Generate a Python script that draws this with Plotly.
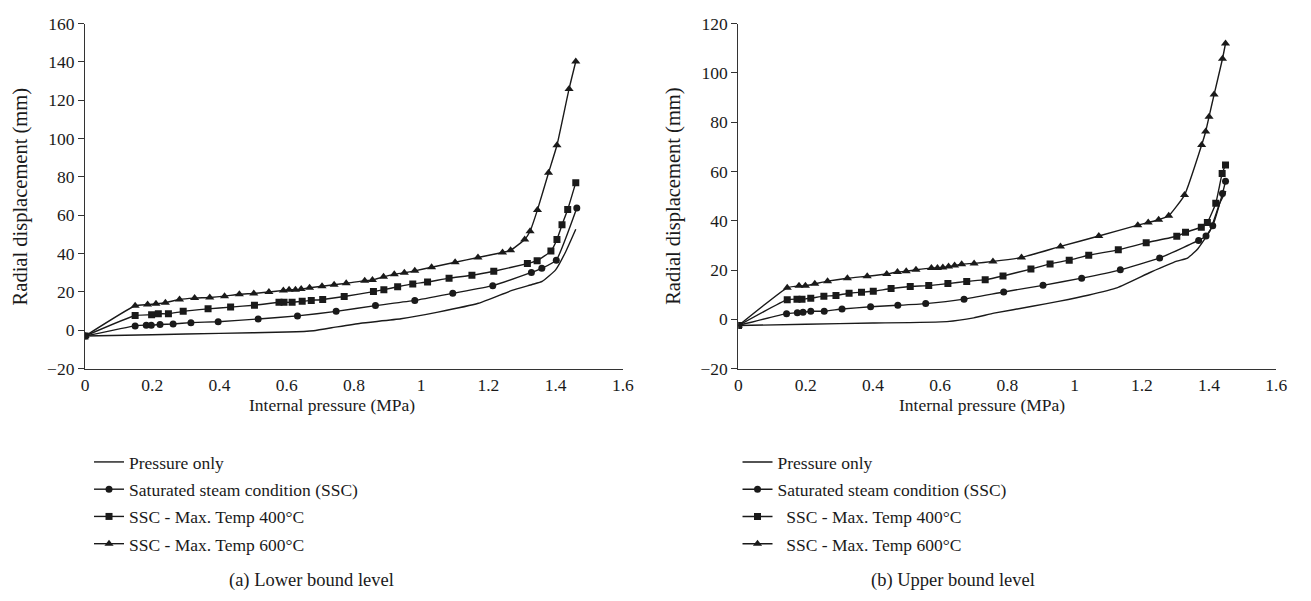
import plotly.graph_objects as go

# ---------------- (a) Lower bound level ----------------
a_press_x = [0, 0.2, 0.4, 0.6, 0.68, 0.75, 0.82, 0.94, 1.05, 1.17, 1.27, 1.33, 1.36, 1.40, 1.43, 1.46]
a_press_y = [-3, -2.3, -1.6, -0.9, -0.2, 1.8, 3.7, 6.0, 9.5, 14.1, 20.8, 23.9, 25.5, 31.5, 41, 52.7]

a_ssc_x = [0, 0.149, 0.182, 0.197, 0.223, 0.262, 0.315, 0.396, 0.515, 0.632, 0.747, 0.864, 0.981,
           1.094, 1.213, 1.328, 1.359, 1.402, 1.463]
a_ssc_y = [-3, 2.3, 2.7, 2.7, 3.0, 3.3, 4.0, 4.5, 5.9, 7.5, 9.9, 12.9, 15.6,
           19.3, 23.3, 30.2, 32.3, 36.6, 63.8]

a_t400_x = [0, 0.149, 0.198, 0.218, 0.248, 0.292, 0.366, 0.433, 0.504, 0.577, 0.592, 0.616, 0.646,
            0.673, 0.707, 0.771, 0.858, 0.889, 0.930, 0.975, 1.019, 1.083, 1.151, 1.216, 1.316,
            1.345, 1.386, 1.404, 1.419, 1.436, 1.46]
a_t400_y = [-3, 7.7, 8.1, 8.6, 8.6, 9.9, 11.2, 12.1, 13.1, 14.6, 14.6, 14.6, 15.1,
            15.6, 16.1, 17.6, 20.2, 21.2, 22.7, 24.2, 25.2, 27.2, 28.7, 30.8, 34.8,
            36.3, 41.3, 47.4, 55.0, 63.0, 77.0]

a_t600_x = [0, 0.149, 0.186, 0.211, 0.239, 0.281, 0.326, 0.371, 0.415, 0.459, 0.502, 0.547, 0.590,
            0.607, 0.626, 0.643, 0.668, 0.705, 0.741, 0.777, 0.832, 0.855, 0.888, 0.920, 0.950,
            0.981, 1.031, 1.101, 1.169, 1.242, 1.266, 1.308, 1.324, 1.346, 1.379, 1.404, 1.440, 1.460]
a_t600_y = [-3, 12.8, 13.4, 13.8, 14.4, 16.1, 16.8, 17.1, 17.8, 18.8, 19.2, 20.0, 20.8,
            21.2, 21.2, 21.5, 22.2, 23.0, 23.8, 24.5, 25.9, 26.2, 27.9, 29.2, 30.0,
            31.0, 32.9, 35.5, 38.0, 40.6, 41.7, 47.4, 51.7, 62.8, 82.2, 96.5, 125.9, 140.2]

# ---------------- (b) Upper bound level ----------------
b_press_x = [0, 0.2, 0.4, 0.62, 0.70, 0.76, 0.874, 0.952, 1.04, 1.128, 1.226, 1.304, 1.334, 1.364, 1.403, 1.432, 1.45]
b_press_y = [-2.5, -2.0, -1.5, -0.9, 0.6, 2.5, 5.3, 7.3, 9.8, 12.9, 19.1, 23.6, 24.7, 28.2, 36.0, 47.2, 52.0]

b_ssc_x = [0, 0.143, 0.175, 0.192, 0.215, 0.255, 0.308, 0.393, 0.474, 0.557, 0.671, 0.789, 0.906,
           1.021, 1.136, 1.253, 1.369, 1.391, 1.411, 1.440, 1.449]
b_ssc_y = [-2.5, 2.3, 2.7, 2.9, 3.3, 3.3, 4.2, 5.1, 5.7, 6.4, 8.2, 11.1, 13.8,
           16.7, 20.1, 24.9, 32.0, 33.8, 38.0, 51.1, 56.0]

b_t400_x = [0, 0.145, 0.174, 0.189, 0.215, 0.254, 0.290, 0.329, 0.366, 0.401, 0.454, 0.511, 0.566,
            0.623, 0.679, 0.734, 0.787, 0.870, 0.927, 0.984, 1.042, 1.130, 1.213, 1.304, 1.330,
            1.377, 1.395, 1.420, 1.439, 1.449]
b_t400_y = [-2.5, 8.0, 8.2, 8.2, 8.6, 9.4, 9.7, 10.6, 11.0, 11.4, 12.5, 13.3, 13.7,
            14.5, 15.4, 16.1, 17.6, 20.4, 22.5, 24.0, 26.0, 28.2, 31.1, 33.7, 35.3,
            37.4, 39.3, 47.1, 59.2, 62.6]

b_t600_x = [0, 0.145, 0.180, 0.199, 0.227, 0.265, 0.324, 0.383, 0.441, 0.473, 0.499, 0.528, 0.574,
            0.592, 0.608, 0.625, 0.643, 0.664, 0.701, 0.757, 0.842, 0.958, 1.072, 1.188, 1.219,
            1.250, 1.280, 1.327, 1.378, 1.390, 1.400, 1.415, 1.440, 1.449]
b_t600_y = [-2.5, 12.8, 13.6, 13.6, 14.4, 15.5, 16.7, 17.5, 18.4, 19.2, 19.5, 20.1, 20.8,
            20.8, 21.0, 21.4, 21.8, 22.4, 22.7, 23.5, 25.1, 29.6, 33.8, 38.2, 39.3,
            40.4, 42.0, 50.4, 70.7, 76.2, 82.2, 91.2, 105.7, 111.9]

series_names = ["Pressure only", "Saturated steam condition (SSC)",
                "SSC - Max. Temp 400°C", "SSC - Max. Temp 600°C"]
right_names = ["Pressure only", "Saturated steam condition (SSC)",
               "\u00a0\u00a0SSC - Max. Temp 400°C", "\u00a0\u00a0SSC - Max. Temp 600°C"]

x_ticks = [0, 0.2, 0.4, 0.6, 0.8, 1, 1.2, 1.4, 1.6]
a_y_ticks = [-20, 0, 20, 40, 60, 80, 100, 120, 140, 160]
b_y_ticks = [-20, 0, 20, 40, 60, 80, 100, 120]
panel_titles = ["(a) Lower bound level", "(b) Upper bound level"]
x_title = "Internal pressure (MPa)"
y_title = "Radial displacement (mm)"

W, H = 1311, 601
FONT = "Liberation Serif"
INK = "#1a1a1a"

symbols = [None, "circle", "square", "triangle-up"]
sizes = [0, 7, 7, 8]

fig = go.Figure()

panels = [
    ("x", "y", "legend", series_names,
     [(a_press_x, a_press_y), (a_ssc_x, a_ssc_y), (a_t400_x, a_t400_y), (a_t600_x, a_t600_y)]),
    ("x2", "y2", "legend2", right_names,
     [(b_press_x, b_press_y), (b_ssc_x, b_ssc_y), (b_t400_x, b_t400_y), (b_t600_x, b_t600_y)]),
]

for xa, ya, leg, names, data in panels:
    for i, (xs, ys) in enumerate(data):
        mode = "lines" if symbols[i] is None else "lines+markers"
        marker = dict(color=INK) if symbols[i] is None else dict(symbol=symbols[i], size=sizes[i], color=INK)
        fig.add_trace(go.Scatter(
            x=xs, y=ys, name=names[i], mode=mode, xaxis=xa, yaxis=ya,
            line=dict(color=INK, width=1.4, shape="spline", smoothing=0.4),
            marker=marker, legend=leg, legendgroup=f"{leg}_{i}",
        ))

def px_x(p):
    return p / W

def px_y(p):
    return 1 - p / H

axis_common = dict(
    showline=True, linecolor="#333333", linewidth=1.3,
    showgrid=False, zeroline=False,
    tickfont=dict(family=FONT, size=17.5, color=INK),
)
# x axes carry labels only; y axes have short outside tick marks
x_axis_style = dict(ticks="", **axis_common)
y_axis_style = dict(ticks="outside", ticklen=6, tickcolor="#333333", tickwidth=1.2, **axis_common)

legend_common = dict(
    xanchor="left", yanchor="top", xref="paper", yref="paper",
    font=dict(family=FONT, size=17.5, color=INK), tracegroupgap=1.5, traceorder="grouped",
    bgcolor="rgba(0,0,0,0)", itemclick=False,
)

y_dom = [px_y(371), px_y(14)]
fig.update_layout(
    width=W, height=H, margin=dict(l=0, r=0, t=0, b=0),
    paper_bgcolor="white", plot_bgcolor="white",
    showlegend=True,
    xaxis=dict(domain=[px_x(82), px_x(626)], range=[0, 1.6], tickvals=x_ticks, anchor="y", **x_axis_style),
    yaxis=dict(domain=y_dom, range=[-20, 160], tickvals=a_y_ticks, anchor="x", **y_axis_style),
    xaxis2=dict(domain=[px_x(743), px_x(1287)], range=[0, 1.6], tickvals=x_ticks, anchor="y2", **x_axis_style),
    yaxis2=dict(domain=y_dom, range=[-20, 120], tickvals=b_y_ticks, anchor="x2", **y_axis_style),
    legend=dict(x=px_x(86), y=px_y(449), **legend_common),
    legend2=dict(x=px_x(742), y=px_y(449), **legend_common),
)

annots = [
    (332, 409, x_title, 0, 17.5),
    (989, 409, x_title, 0, 17.5),
    (17, 193, y_title, -90, 20.5),
    (677, 193, y_title, -90, 20.5),
    (311, 590, panel_titles[0], 0, 18.5),
    (960, 590, panel_titles[1], 0, 18.5),
]
for ax_, ay_, txt, ang, fs in annots:
    fig.add_annotation(x=px_x(ax_), y=px_y(ay_), xref="paper", yref="paper", text=txt,
                       showarrow=False, textangle=ang, xanchor="center", yanchor="middle",
                       font=dict(family=FONT, size=fs, color=INK))

fig.write_html("out.html")
